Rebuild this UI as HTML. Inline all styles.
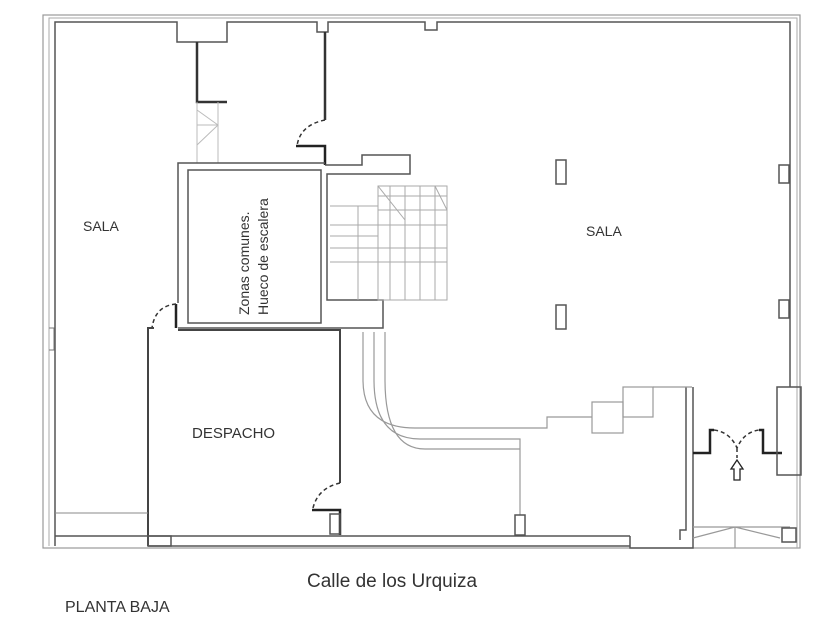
<!DOCTYPE html>
<html><head><meta charset="utf-8"><style>
html,body{margin:0;padding:0;background:#fff;width:840px;height:630px;overflow:hidden}
svg{display:block}
text{font-family:"Liberation Sans",sans-serif;fill:#333}
</style></head><body>
<svg width="840" height="630" viewBox="0 0 840 630" xmlns="http://www.w3.org/2000/svg">
<g fill="none" stroke="#555" stroke-width="1.5">
<rect x="43" y="15" width="757" height="533" stroke="#999" stroke-width="1.2"/>
<path d="M55 546 V22 H177 V42 H227 V22 H317 V32 H328 V22 H425 V30 H437 V22 H790 V387" />
<path d="M49 546 V18 H797 V548" stroke="#aaa" stroke-width="1"/>
<path d="M49 328 H54 V350 H49" stroke="#777" stroke-width="1"/>
<path d="M197 42 V102 H227" stroke="#333" stroke-width="2.5"/>
<path d="M197 102 V163 M218 102 V163 M197 125 H218 M197 110 L218 125 L197 145" stroke="#bbb" stroke-width="1"/>
<path d="M325 32 V120" stroke="#333" stroke-width="2.5"/>
<path d="M325 120 Q300 125 297 146" stroke-dasharray="4 3" stroke="#333"/>
<path d="M296 146 H325 V165" stroke="#222" stroke-width="2.5"/>
<path d="M178 303 V163 H325 M325 165 H362 V155 H410 V174 H327 V300 H383 V328 H178"/>
<rect x="188" y="170" width="133" height="153"/>
<path d="M176 304 V328" stroke="#222" stroke-width="2.5"/>
<g stroke="#aaa" stroke-width="1">
<rect x="378" y="186" width="69" height="114"/>
<path d="M330 206 H378 M330 225 H447 M330 236 H378 M330 248 H447 M330 262 H447 M358 206 V300 M390 186 V300 M405 186 V300 M420 186 V300 M435 186 V300 M378 196 H447 M378 210 H447 M378 186 L405 220 M435 186 L447 210"/>
</g>
<path d="M176 304 Q155 306 152 328" stroke-dasharray="4 3" stroke="#333"/>
<path d="M148 546 V328 H154" stroke="#444" stroke-width="2"/>
<path d="M178 330 H340 V483" stroke="#444" stroke-width="2"/>
<path d="M340 483 Q318 488 313 508" stroke-dasharray="4 3" stroke="#333"/>
<path d="M312 510 H340 V535" stroke="#222" stroke-width="2.5"/>
<rect x="330" y="514" width="10" height="20"/>
<path d="M55 513 H148" stroke="#888" stroke-width="1"/>
<path d="M55 536 H148 M148 536 H630"/>
<path d="M148 546 H630 V548 H693 V387 M686 387 V530 H680 V540 M630 536 V546"/>
<rect x="148" y="536" width="23" height="10"/>
<g stroke="#999" stroke-width="1.2">
<path d="M363 332 V380 Q363 428 415 428 H547 V417 H592"/>
<path d="M374 332 V380 Q374 439 420 439 H520 V515"/>
<path d="M385 332 V380 Q385 449 425 449 H520"/>
<rect x="592" y="402" width="31" height="31"/>
<rect x="623" y="387" width="30" height="30"/>
<path d="M653 387 H692"/>
<path d="M693 527 H790 M693 538 L735 527 L780 538 M735 527 V548"/>
</g>
<rect x="515" y="515" width="10" height="20"/>
<rect x="782" y="528" width="14" height="14"/>
<rect x="556" y="160" width="10" height="24"/>
<rect x="556" y="305" width="10" height="24"/>
<rect x="779" y="165" width="10" height="18"/>
<rect x="779" y="300" width="10" height="18"/>
<path d="M693 453 H710 V430 H714 M782 453 H763 V430 H759" stroke="#222" stroke-width="2.5"/>
<path d="M714 430 Q730 432 737 448 Q744 432 759 430 M737 448 V458" stroke-dasharray="4 3" stroke="#333"/>
<path d="M737 460 L731 469 H734 V480 H740 V469 H743 Z" stroke="#222" stroke-width="1.3"/>
<rect x="777" y="387" width="24" height="88"/>
</g>
<text x="83" y="231" font-size="14">SALA</text>
<text x="586" y="236" font-size="14">SALA</text>
<text x="192" y="438" font-size="15">DESPACHO</text>
<text transform="translate(249,315) rotate(-90)" font-size="14">Zonas comunes.</text>
<text transform="translate(268,315) rotate(-90)" font-size="14">Hueco de escalera</text>
<text x="307" y="587" font-size="19">Calle de los Urquiza</text>
<text x="65" y="612" font-size="16">PLANTA BAJA</text>
</svg>
</body></html>
